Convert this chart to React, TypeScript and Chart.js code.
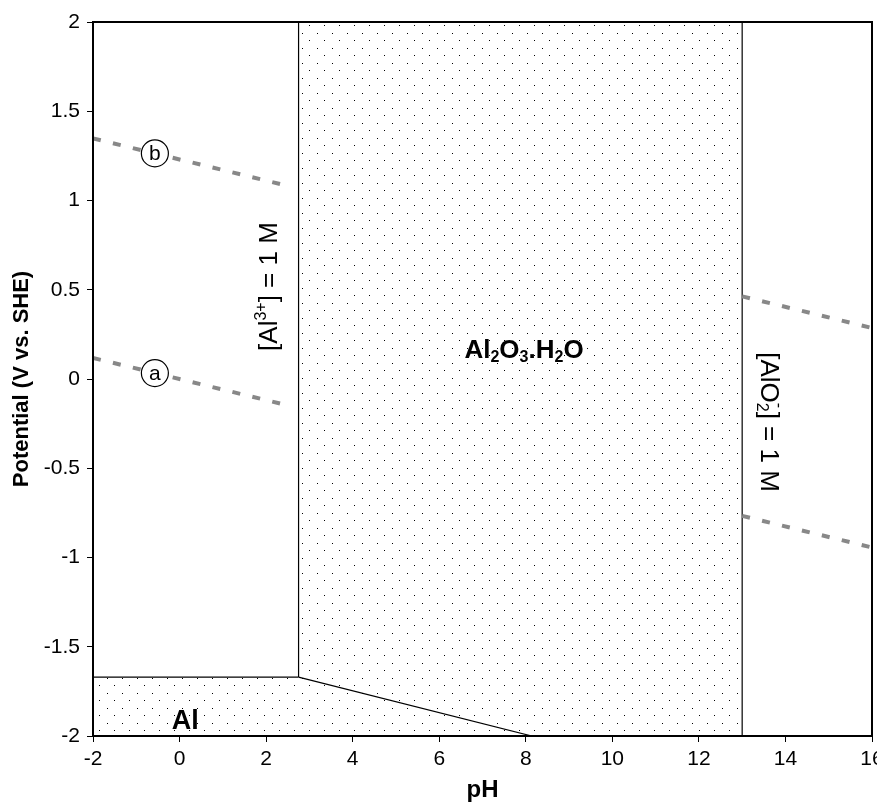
import React, { useEffect, useRef } from 'react';
import { Chart, registerables } from 'chart.js';

Chart.register(...registerables);

const FONT = "'Liberation Sans', Arial, Helvetica, sans-serif";

// Axis ticks
const X_TICKS = [-2, 0, 2, 4, 6, 8, 10, 12, 14, 16];
const Y_TICKS = [-2, -1.5, -1, -0.5, 0, 0.5, 1, 1.5, 2];

// Dotted (solid-phase) region outline: Al + Al2O3.H2O
const SHADE_PH = [-2, -2, 2.75, 2.75, 13, 13];
const SHADE_E = [-2, -1.67, -1.67, 2, 2, -2];

// Phase boundaries (solid lines)
const AL_ALIII_PH = [-2, 2.75];
const AL_ALIII_E = [-1.67, -1.67];
const ALIII_OX_PH = [2.75, 2.75];
const ALIII_OX_E = [-1.67, 2];
const AL_OX_PH = [2.75, 8.14];
const AL_OX_E = [-1.67, -2];
const OX_ALO2_PH = [13, 13];
const OX_ALO2_E = [-2, 2];

// Water stability lines (dashed)
const LINE_B_LEFT_PH = [-2, 2.5];
const LINE_B_LEFT_E = [1.348, 1.082];
const LINE_A_LEFT_PH = [-2, 2.5];
const LINE_A_LEFT_E = [0.118, -0.148];
const LINE_B_RIGHT_PH = [13, 16];
const LINE_B_RIGHT_E = [0.463, 0.286];
const LINE_A_RIGHT_PH = [13, 16];
const LINE_A_RIGHT_E = [-0.767, -0.944];

// Circled line markers
const MARKER_NAMES = ['b', 'a'];
const MARKER_PH = [-0.57, -0.57];
const MARKER_E = [1.264, 0.033];

type Seg = { t: string; size: number; bold?: boolean; shift?: number; stack?: boolean };
type Label = { segs: Seg[]; pH: number; E: number; rot: number };

const PHASE_LABELS: Label[] = [
  { segs: [{ t: 'Al', size: 27, bold: true }], pH: 0.13, E: -1.962, rot: 0 },
  {
    segs: [
      { t: 'Al', size: 26, bold: true },
      { t: '2', size: 16, bold: true, shift: 4 },
      { t: 'O', size: 26, bold: true },
      { t: '3', size: 16, bold: true, shift: 4 },
      { t: '.', size: 26, bold: true },
      { t: 'H', size: 26, bold: true },
      { t: '2', size: 16, bold: true, shift: 4 },
      { t: 'O', size: 26, bold: true },
    ],
    pH: 7.96,
    E: 0.118,
    rot: 0,
  },
  {
    segs: [
      { t: '[Al', size: 26 },
      { t: '3+', size: 16, shift: -11 },
      { t: '] = 1 M', size: 26 },
    ],
    pH: 2.247,
    E: 0.518,
    rot: -90,
  },
  {
    segs: [
      { t: '[AlO', size: 26 },
      { t: '2', size: 16, shift: 4, stack: true },
      { t: '-', size: 16, shift: -13 },
      { t: '] = 1 M', size: 26 },
    ],
    pH: 13.44,
    E: -0.241,
    rot: 90,
  },
];

function segFont(s: Seg) {
  return `${s.bold ? 'bold ' : ''}${s.size}px ${FONT}`;
}

function drawRich(ctx: CanvasRenderingContext2D, segs: Seg[], x: number, y: number, rotDeg: number) {
  ctx.save();
  ctx.translate(x, y);
  ctx.rotate((rotDeg * Math.PI) / 180);
  ctx.textBaseline = 'alphabetic';
  ctx.textAlign = 'left';
  ctx.fillStyle = '#000';
  // measure
  const widths = segs.map((s) => {
    ctx.font = segFont(s);
    return ctx.measureText(s.t).width;
  });
  let total = 0;
  for (let i = 0; i < segs.length; i++) {
    if (segs[i].stack) {
      total += Math.max(widths[i], widths[i + 1] || 0);
      i++;
    } else total += widths[i];
  }
  let cx = -total / 2;
  for (let i = 0; i < segs.length; i++) {
    const s = segs[i];
    ctx.font = segFont(s);
    ctx.fillText(s.t, cx, s.shift || 0);
    if (s.stack && segs[i + 1]) {
      const n = segs[i + 1];
      ctx.font = segFont(n);
      ctx.fillText(n.t, cx, n.shift || 0);
      cx += Math.max(widths[i], widths[i + 1]);
      i++;
    } else cx += widths[i];
  }
  ctx.restore();
}

function makeDots(): CanvasPattern | string {
  const c = document.createElement('canvas');
  c.width = 15;
  c.height = 15;
  const g = c.getContext('2d');
  if (!g) return 'transparent';
  g.fillStyle = '#000';
  g.fillRect(2, 3, 1, 1);
  g.fillRect(9, 10, 1, 1);
  const p = g.createPattern(c, 'repeat');
  return p || 'transparent';
}

const annotPlugin = {
  id: 'annot',
  afterDatasetsDraw(chart: any) {
    const { ctx, chartArea: a, scales } = chart;
    const xs = scales.x;
    const ys = scales.y;
    ctx.save();
    // phase labels
    PHASE_LABELS.forEach((l) => {
      drawRich(ctx, l.segs, xs.getPixelForValue(l.pH), ys.getPixelForValue(l.E), l.rot);
    });
    // circled markers
    MARKER_NAMES.forEach((n, i) => {
      const px = xs.getPixelForValue(MARKER_PH[i]);
      const py = ys.getPixelForValue(MARKER_E[i]);
      ctx.beginPath();
      ctx.arc(px, py, 13.5, 0, Math.PI * 2);
      ctx.fillStyle = '#fff';
      ctx.fill();
      ctx.lineWidth = 1.2;
      ctx.strokeStyle = '#000';
      ctx.stroke();
      ctx.fillStyle = '#000';
      ctx.font = `21px ${FONT}`;
      ctx.textAlign = 'center';
      ctx.textBaseline = 'middle';
      ctx.fillText(n, px, py + 1);
    });
    // frame
    ctx.lineWidth = 2;
    ctx.strokeStyle = '#000';
    ctx.strokeRect(a.left, a.top, a.right - a.left, a.bottom - a.top);
    ctx.restore();
  },
};

export default function App() {
  const ref = useRef<HTMLCanvasElement>(null);
  useEffect(() => {
    const canvas = ref.current;
    if (!canvas) return;
    const pat = makeDots();
    const pts = (xs: number[], ys: number[]) => xs.map((x, i) => ({ x, y: ys[i] }));
    const solid = { borderColor: '#000', borderWidth: 1.2, pointRadius: 0, fill: false, tension: 0 };
    const dashed = {
      borderColor: '#888888',
      borderWidth: 4,
      borderDash: [8, 12.5],
      borderCapStyle: 'butt',
      pointRadius: 0,
      fill: false,
      tension: 0,
    };
    const chart = new Chart(canvas, {
      type: 'line',
      data: {
        datasets: [
          { data: pts(LINE_B_LEFT_PH, LINE_B_LEFT_E), ...dashed },
          { data: pts(LINE_A_LEFT_PH, LINE_A_LEFT_E), ...dashed },
          { data: pts(LINE_B_RIGHT_PH, LINE_B_RIGHT_E), ...dashed },
          { data: pts(LINE_A_RIGHT_PH, LINE_A_RIGHT_E), ...dashed },
          { data: pts(AL_ALIII_PH, AL_ALIII_E), ...solid },
          { data: pts(ALIII_OX_PH, ALIII_OX_E), ...solid },
          { data: pts(AL_OX_PH, AL_OX_E), ...solid },
          { data: pts(OX_ALO2_PH, OX_ALO2_E), ...solid },
          {
            data: pts(SHADE_PH, SHADE_E),
            borderColor: 'rgba(0,0,0,0)',
            borderWidth: 0,
            backgroundColor: pat,
            fill: { value: -2 },
            pointRadius: 0,
            tension: 0,
          },
        ] as any,
      },
      options: {
        responsive: false,
        animation: false,
        devicePixelRatio: 1,
        events: [],
        layout: { padding: { left: 0, top: 22, right: 5, bottom: 0 } },
        plugins: { legend: { display: false }, tooltip: { enabled: false } },
        scales: {
          x: {
            type: 'linear',
            min: X_TICKS[0],
            max: X_TICKS[X_TICKS.length - 1],
            afterBuildTicks: (s: any) => {
              s.ticks = X_TICKS.map((v) => ({ value: v }));
            },
            ticks: {
              color: '#000',
              font: { family: FONT, size: 21, lineHeight: 1 },
              padding: 7,
              maxRotation: 0,
              autoSkip: false,
              callback: (v: any) => String(v),
            },
            grid: { drawOnChartArea: false, tickLength: 6, color: '#000', tickWidth: 1 },
            border: { color: '#000', width: 2 },
            title: {
              display: true,
              text: 'pH',
              color: '#000',
              font: { family: FONT, size: 24, weight: 'bold', lineHeight: 1 },
              padding: { top: 0, bottom: 1 },
            },
            afterFit: (s: any) => {
              s.height = 67;
              s.paddingLeft = 0;
              s.paddingRight = 0;
            },
          },
          y: {
            type: 'linear',
            min: Y_TICKS[0],
            max: Y_TICKS[Y_TICKS.length - 1],
            afterBuildTicks: (s: any) => {
              s.ticks = Y_TICKS.map((v) => ({ value: v }));
            },
            ticks: {
              color: '#000',
              font: { family: FONT, size: 21, lineHeight: 1 },
              padding: 7,
              autoSkip: false,
              callback: (v: any) => String(Math.round(Number(v) * 10) / 10),
            },
            grid: { drawOnChartArea: false, tickLength: 6, color: '#000', tickWidth: 1 },
            border: { color: '#000', width: 2 },
            title: {
              display: true,
              text: 'Potential (V vs. SHE)',
              color: '#000',
              font: { family: FONT, size: 22, weight: 'bold', lineHeight: 1 },
              padding: { top: 11, bottom: 0 },
            },
            afterFit: (s: any) => {
              s.width = 93;
              s.paddingTop = 0;
              s.paddingBottom = 0;
            },
          },
        },
      } as any,
      plugins: [annotPlugin],
    });
    return () => chart.destroy();
  }, []);
  return (
    <canvas
      ref={ref}
      width={877}
      height={803}
      style={{ position: 'absolute', left: 0, top: 0, width: 877, height: 803 }}
    />
  );
}
